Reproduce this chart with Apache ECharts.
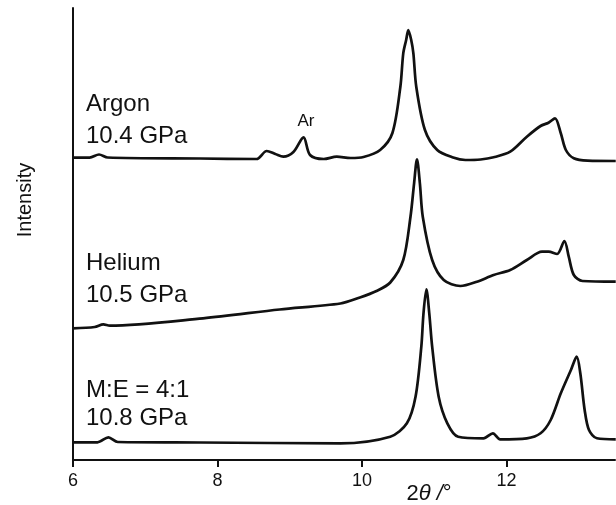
<!DOCTYPE html>
<html>
<head>
<meta charset="utf-8">
<script src="https://cdn.jsdelivr.net/npm/echarts@6/dist/echarts.min.js"></script>
<style>
  html, body { margin: 0; padding: 0; background: #fff; }
  #echarts { width: 616px; height: 505px; }
</style>
</head>
<body>
<div id="echarts"></div>
<script>
// 2θ (deg) and stacked intensity (arb. units, offset already included)
const argon = [
  [6.0, 302.3], [6.23, 302.3], [6.36, 305.5], [6.48, 302.5], [7.76, 301.5], [8.54, 301],
  [8.68, 309], [8.8, 306], [8.91, 303.3], [9.05, 308], [9.19, 322.7], [9.28, 305],
  [9.47, 301], [9.65, 303.3], [9.84, 302], [10.02, 303], [10.25, 310], [10.42, 327],
  [10.53, 373.3], [10.57, 406.7], [10.61, 420], [10.64, 430], [10.68, 420], [10.71, 406.7],
  [10.75, 373.3], [10.87, 330], [11.04, 310], [11.26, 302.5], [11.43, 300], [11.64, 300.5],
  [11.82, 302.7], [12.05, 308.3], [12.28, 323.3], [12.47, 334], [12.58, 337.3], [12.67, 341.7],
  [12.75, 326.7], [12.82, 310], [12.93, 301.7], [13.12, 299.3], [13.51, 299]
]
const helium = [
  [6.0, 131.7], [6.3, 133], [6.42, 135.7], [6.51, 134.3], [7.8, 141.7], [8.86, 150.5],
  [9.7, 156.5], [9.97, 162.5], [10.2, 169], [10.39, 177.5], [10.57, 200], [10.67, 243.3],
  [10.72, 276.7], [10.76, 300.7], [10.8, 276.7], [10.84, 243.3], [10.97, 200], [11.13, 180],
  [11.36, 174], [11.59, 178.3], [11.82, 185], [12.05, 190], [12.28, 200], [12.49, 208.3],
  [12.58, 208.3], [12.7, 206], [12.8, 219], [12.86, 203.3], [12.93, 185], [13.05, 179],
  [13.51, 178.3]
]
const mixture = [
  [6.0, 17.7], [6.34, 17.7], [6.49, 22.7], [6.62, 18], [7.76, 17.5], [9.7, 16.7],
  [10.39, 23.3], [10.62, 36.7], [10.74, 63.3], [10.82, 113.3], [10.85, 146.7], [10.89, 170.7],
  [10.93, 146.7], [10.97, 113.3], [11.06, 63.3], [11.18, 36.7], [11.33, 23.3], [11.68, 21.7],
  [11.81, 26.7], [11.91, 20.7], [12.28, 21.7], [12.47, 26.7], [12.61, 40], [12.75, 66.7],
  [12.89, 90], [12.97, 103.3], [13.02, 86.7], [13.08, 50], [13.14, 30], [13.25, 21.7],
  [13.51, 20.7]
]

const xTicks = [6, 8, 10, 12]
const sampleLabels = [
  ['Argon', '10.4 GPa'],
  ['Helium', '10.5 GPa'],
  ['M:E = 4:1', '10.8 GPa']
]
const peakLabel = 'Ar'

const INK = '#111'
const FONT = 'Liberation Sans, Arial, sans-serif'

const chart = echarts.init(document.querySelector('#echarts'))

const lineSeries = (data) => ({
  type: 'line',
  data: data,
  showSymbol: false,
  smooth: 0.3,
  lineStyle: { color: INK, width: 2.7 },
  silent: true
})

// label anchor (left, middle of first line, middle of second line)
const labelPos = [[86, 104, 136], [86, 263, 295], [86, 390, 418]]
const texts = []
sampleLabels.forEach((pair, i) => {
  const p = labelPos[i]
  pair.forEach((t, j) => {
    texts.push({
      type: 'text',
      x: p[0],
      y: p[1 + j],
      style: { text: t, fill: INK, font: '24px ' + FONT, verticalAlign: 'middle' }
    })
  })
})

texts.push({
  type: 'text',
  x: 306, y: 121,
  style: { text: peakLabel, fill: INK, font: '17px ' + FONT, align: 'center', verticalAlign: 'middle' }
})
texts.push({
  type: 'text',
  x: 25, y: 200,
  rotation: Math.PI / 2,
  style: { text: 'Intensity', fill: INK, font: '20px ' + FONT, align: 'center', verticalAlign: 'middle' }
})
texts.push({
  type: 'text',
  x: 429, y: 494,
  style: {
    text: '{n|2}{i|θ /}{n|°}',
    align: 'center',
    verticalAlign: 'middle',
    rich: {
      n: { fontSize: 22, fontFamily: FONT, fill: INK },
      i: { fontSize: 22, fontFamily: FONT, fontStyle: 'italic', fill: INK }
    }
  }
})

const option = {
  animation: false,
  backgroundColor: '#fff',
  grid: { left: 73, right: 1, top: 8, bottom: 45 },
  xAxis: {
    type: 'value',
    min: 6,
    max: 13.5,
    interval: 2,
    splitLine: { show: false },
    axisLine: { lineStyle: { color: INK, width: 2 } },
    axisTick: { length: 7, customValues: xTicks, lineStyle: { color: INK, width: 2 } },
    axisLabel: {
      color: INK,
      fontSize: 18,
      fontFamily: FONT,
      margin: 12,
      customValues: xTicks,
      formatter: (v) => (xTicks.indexOf(v) >= 0 ? String(v) : '')
    }
  },
  yAxis: {
    type: 'value',
    min: 0,
    max: 452,
    splitLine: { show: false },
    axisTick: { show: false },
    axisLabel: { show: false },
    axisLine: { show: true, lineStyle: { color: INK, width: 2 } }
  },
  series: [lineSeries(argon), lineSeries(helium), lineSeries(mixture)],
  graphic: texts
}

chart.setOption(option)
</script>
</body>
</html>
